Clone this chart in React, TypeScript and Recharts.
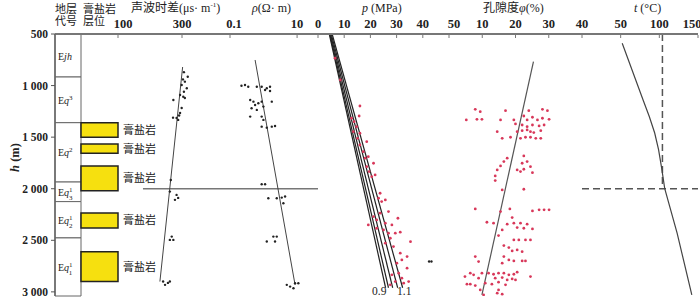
import React from 'react';
import { ComposedChart, Scatter, Line, XAxis, YAxis, ReferenceArea, ReferenceLine } from 'recharts';

const H = 303;
const DEPTH_DOMAIN: [number, number] = [500, 3040];
const DEPTH_TICKS = [500, 1000, 1500, 2000, 2500, 3000];
const DEPTH_LABELS = ['500', '1 000', '1 500', '2 000', '2 500', '3 000'];
const MARK_DEPTH = 2000;

// 地层代号
const STRATA_TOP = [500, 917, 1360, 1935, 2125, 2477];
const STRATA_BOTTOM = [917, 1360, 1935, 2125, 2477, 3040];
const STRATA_ITALIC = ['jh', 'q', 'q', 'q', 'q', 'q'];
const STRATA_SUP = ['', '3', '2', '1', '1', '1'];
const STRATA_SUB = ['', '', '', '3', '2', '1'];

// 膏盐岩层位
const SALT_TOP = [1360, 1566, 1780, 2235, 2610];
const SALT_BOTTOM = [1500, 1655, 2020, 2380, 2900];
const SALT_LABEL = '膏盐岩';

// 声波时差 [h, value]
const ACOUSTIC_PTS = [
  [870, 306], [914, 318], [940, 303], [962, 309], [994, 299], [1026, 315], [1060, 306],
  [1091, 294], [1108, 304], [1120, 309], [1140, 273], [1217, 299], [1266, 294], [1290, 291],
  [1311, 272], [1314, 283], [1333, 288], [1915, 265], [2028, 262], [2060, 283], [2089, 288],
  [2108, 278], [2464, 268], [2496, 273], [2496, 262], [2900, 262], [2900, 241], [2913, 256],
  [2932, 247],
];
const ACOUSTIC_TREND = [[820, 302], [2900, 231]];
const ACOUSTIC_MARK = [[2000, 178], [2000, 450]];
const ACOUSTIC_TICKS = [100, 300];

// 电阻率
const RESIST_PTS = [
  [1001, 0.22], [994, 0.28], [1011, 0.35], [1011, 0.63], [1011, 0.88], [1026, 1.25], [1011, 1.56],
  [1043, 1.11], [1052, 1.56], [1140, 0.4], [1156, 0.5], [1188, 0.56], [1172, 0.7], [1156, 0.88],
  [1204, 0.99], [1156, 1.76], [1220, 0.44], [1236, 0.63], [1301, 0.4], [1301, 0.88], [1333, 0.99],
  [1398, 0.88], [1408, 1.25], [1398, 1.76], [1392, 2.2], [1957, 0.88], [1957, 1.11], [2092, 1.39],
  [2092, 2.48], [2086, 3.49], [2076, 4.38], [2141, 3.9], [2464, 1.96], [2464, 2.48], [2512, 2.2],
  [2512, 1.25], [2932, 4.93], [2949, 6.2], [2916, 8.7], [2916, 10.9], [2965, 7.8],
];
const RESIST_TREND = [[752, 0.56], [2932, 8.7]];
const RESIST_TICKS = [0.1, 10];

// 压力
const PRESSURE_PTS = [
  [735, 6.5], [946, 8.5], [1198, 16.0], [1295, 15.7], [1317, 12.8], [1350, 13.8], [1398, 14.7],
  [1447, 13.5], [1462, 16.0], [1511, 15.1], [1544, 18.6], [1576, 16.0], [1641, 17.3], [1689, 19.2],
  [1704, 18.0], [1753, 21.2], [1786, 18.6], [1834, 19.5], [1866, 21.8], [1883, 20.5], [2044, 23.7],
  [2092, 23.1], [2109, 25.7], [2125, 24.3], [2222, 26.9], [2237, 23.7], [2270, 21.2], [2286, 30.5],
  [2302, 22.4], [2334, 25.7], [2351, 19.2], [2351, 28.2], [2383, 22.4], [2399, 25.0], [2421, 31.4],
  [2431, 26.9], [2431, 29.5], [2480, 27.6], [2513, 35.3], [2528, 25.7], [2561, 28.8], [2625, 31.4],
  [2658, 34.0], [2690, 32.0], [2722, 30.1], [2770, 34.0], [2819, 30.8], [2835, 28.2], [2867, 32.0],
  [2900, 29.5], [2900, 34.6], [2916, 32.7], [2932, 27.6],
];
const PRESSURE_BLACK = [[2706, 42.4], [2706, 43.3]];
const PRESSURE_LINE_TOP = [4.3, 4.5, 4.75, 5.05, 5.4];
const PRESSURE_LINE_BOTTOM = [25.8, 26.9, 28.5, 30.4, 32.3];
const PRESSURE_LINE_DEPTHS = [500, 2960];
const PRESSURE_TICKS = [0, 10, 20, 30, 40, 50];

// 孔隙度
const POROSITY_PTS = [
  [1230, 7.9], [1253, 9.4], [1333, 5.2], [1327, 8.4], [1327, 9.9], [1243, 17.0], [1333, 15.5],
  [1333, 19.5], [1372, 20.0], [1243, 24.0], [1230, 28.1], [1243, 29.6], [1295, 22.5], [1333, 23.5],
  [1307, 25.1], [1333, 26.6], [1317, 28.1], [1327, 30.1], [1382, 22.0], [1398, 23.5], [1382, 25.1],
  [1391, 27.1], [1382, 28.6], [1447, 14.5], [1447, 20.5], [1437, 22.0], [1430, 23.5], [1447, 24.5],
  [1456, 25.5], [1437, 27.6], [1511, 16.0], [1501, 18.5], [1511, 21.5], [1501, 23.0], [1501, 24.5],
  [1511, 26.1], [1511, 27.6], [1682, 22.5], [1737, 23.5], [1753, 22.0], [1786, 24.5], [1704, 17.5],
  [1737, 16.5], [1779, 15.5], [1818, 14.5], [1818, 20.5], [1834, 21.5], [1811, 22.5], [1844, 25.1],
  [1876, 13.9], [1921, 13.9], [2012, 16.0], [2005, 22.5],
  [2196, 7.9], [2222, 15.5], [2196, 18.3], [2215, 25.1], [2205, 27.1], [2205, 28.6], [2205, 30.1],
  [2280, 19.0], [2325, 11.4], [2334, 13.4], [2344, 17.5], [2334, 19.5], [2334, 21.5], [2344, 23.5],
  [2377, 20.5], [2383, 22.5], [2390, 25.1], [2399, 16.0], [2454, 14.9], [2496, 19.5], [2496, 21.0],
  [2496, 23.0], [2496, 24.5], [2551, 16.5], [2571, 18.0], [2603, 19.0], [2593, 20.5], [2610, 22.0],
  [2658, 7.9], [2706, 8.9], [2658, 16.5], [2690, 18.0], [2700, 19.5], [2700, 22.0], [2700, 23.0],
  [2722, 16.0], [2852, 4.8], [2925, 5.4], [2819, 6.4], [2835, 7.4], [2867, 8.9], [2819, 9.9],
  [2819, 11.9], [2829, 13.4], [2819, 14.9], [2819, 16.5], [2835, 18.0], [2829, 19.5], [2809, 20.5],
  [2867, 13.9], [2861, 16.0], [2884, 17.5], [2874, 19.0], [2884, 20.0], [2852, 24.5], [2916, 10.9],
  [2925, 12.9], [2906, 14.9], [2932, 17.0], [2925, 6.4], [2939, 7.9], [2981, 9.4], [3029, 10.4],
  [3013, 14.5], [3022, 16.0], [2981, 14.9],
];
const POROSITY_TREND = [[768, 25.4], [3030, 9.9]];
const POROSITY_TICKS = [10, 20, 30, 40];

// 温度
const TEMP_CURVE = [
  [590, 52], [1140, 79], [1220, 83], [1300, 87], [1460, 94], [1620, 99], [1800, 103],
  [2000, 107], [2430, 123], [3030, 142],
];
const TEMP_DASH = [[500, 104], [2000, 104]];
const TEMP_TICKS = [50, 100, 150];

const toPts = (arr: number[][]) => arr.map(([h, v]) => ({ h, v }));

const FONT = '"Liberation Serif", "Noto Sans CJK SC", serif';
const RED = '#d8385a';

const dot = (r: number, fill: string) => (p: any) =>
  p.cx == null ? <g /> : <circle cx={p.cx} cy={p.cy} r={r} fill={fill} />;

const TopTick = (props: any) => {
  const { x, y, payload, shift } = props;
  const dx = shift?.[payload.value] ?? 0;
  return (
    <g>
      <line x1={x} x2={x} y1={y + 7} y2={y + 10} stroke="#777" strokeWidth={1} />
      <text x={x + dx} y={y} textAnchor="middle" fontSize={12.5} fontWeight="bold" fill="#222" fontFamily={FONT}>
        {payload.value}
      </text>
    </g>
  );
};

const StrataLabel = (props: any) => {
  const { viewBox, i } = props;
  const sup = STRATA_SUP[i];
  const sub = STRATA_SUB[i];
  return (
    <text x={viewBox.x + 3} y={viewBox.y + viewBox.height / 2 + 4} fontSize={10} fill="#222" fontFamily={FONT}>
      E<tspan fontStyle="italic">{STRATA_ITALIC[i]}</tspan>
      {sup ? <tspan dy={-4} fontSize={7}>{sup}</tspan> : null}
      {sub ? <tspan dx={-3.5} dy={8} fontSize={7}>{sub}</tspan> : null}
    </text>
  );
};

const SaltLabel = (props: any) => {
  const { viewBox } = props;
  return (
    <text x={viewBox.x + viewBox.width + 5} y={viewBox.y + viewBox.height / 2 + 4} fontSize={11} fill="#222" fontFamily={FONT}>
      {SALT_LABEL}
    </text>
  );
};

interface PanelProps {
  left: number;
  width: number;
  domain: number[];
  scale?: 'linear' | 'log';
  ticks?: number[];
  shift?: Record<string, number>;
  border: string;
  borderWidth?: number;
  rightBorder?: boolean;
  children?: React.ReactNode;
}

function Panel({ left, width, domain, scale = 'linear', ticks = [], shift, border, borderWidth = 2, rightBorder, children }: PanelProps) {
  const pad = 4;
  return (
    <div style={{ position: 'absolute', left: left - pad, top: 0 }}>
      <ComposedChart width={width + 2 * pad} height={H} margin={{ top: 20, right: pad, bottom: 7, left: pad }}>
        <XAxis
          type="number"
          dataKey="v"
          domain={domain}
          scale={scale}
          orientation="top"
          height={14}
          ticks={ticks.length ? ticks : undefined}
          interval={0}
          tickSize={0}
          tickMargin={6}
          tickLine={false}
          tick={ticks.length ? <TopTick shift={shift} /> : false}
          axisLine={{ stroke: '#777', strokeWidth: 2 }}
          allowDataOverflow
        />
        <YAxis
          type="number"
          dataKey="h"
          domain={DEPTH_DOMAIN}
          reversed
          width={0}
          tick={false}
          tickLine={false}
          axisLine={{ stroke: border, strokeWidth: borderWidth }}
          allowDataOverflow
        />
        {rightBorder && (
          <YAxis
            yAxisId="r"
            orientation="right"
            type="number"
            domain={DEPTH_DOMAIN}
            reversed
            width={0}
            tick={false}
            tickLine={false}
            axisLine={{ stroke: '#999', strokeWidth: 2 }}
          />
        )}
        {children}
      </ComposedChart>
    </div>
  );
}

const title = (left: number, top: number, text: React.ReactNode, size = 12) => (
  <div style={{ position: 'absolute', left, top, fontSize: size, lineHeight: '12px', color: '#222', whiteSpace: 'nowrap' }}>
    {text}
  </div>
);

export default function App() {
  return (
    <div style={{ position: 'absolute', left: 0, top: 0, width: 700, height: H, background: '#fff', overflow: 'hidden', fontFamily: FONT }}>
      <style>{'.recharts-surface{overflow:visible}'}</style>

      {title(55, 3, <>地层<br />代号</>, 11)}
      {title(83, 3, <>膏盐岩<br />层位</>, 11)}
      {title(131, 2, <>声波时差(μs· m<sup style={{ fontSize: 7, lineHeight: 0 }}>-1</sup>)</>)}
      {title(252, 2, <><i>ρ</i>(Ω· m)</>)}
      {title(362, 2, <><i>p</i> (MPa)</>)}
      {title(483, 2, <>孔隙度<i>φ</i>(%)</>)}
      {title(634, 2, <><i>t</i> (°C)</>)}

      <div style={{ position: 'absolute', left: 1, top: 150, transform: 'rotate(-90deg)', fontSize: 12.5, fontWeight: 'bold', color: '#222', whiteSpace: 'nowrap' }}>
        <i>h</i> (m)
      </div>

      {/* 地层代号 + depth axis */}
      <div style={{ position: 'absolute', left: 0, top: 0 }}>
        <ComposedChart width={85} height={H} margin={{ top: 20, right: 4, bottom: 7, left: 0 }}>
          <XAxis type="number" dataKey="v" domain={[0, 1]} orientation="top" height={14} tick={false} tickLine={false} axisLine={{ stroke: '#777', strokeWidth: 2 }} allowDataOverflow />
          <YAxis
            type="number"
            dataKey="h"
            domain={DEPTH_DOMAIN}
            reversed
            width={55}
            ticks={DEPTH_TICKS}
            interval={0}
            tickSize={4}
            tickMargin={3}
            tickFormatter={(v: number) => DEPTH_LABELS[DEPTH_TICKS.indexOf(v)]}
            tick={{ fontSize: 11.5, fontWeight: 'bold', fill: '#222', fontFamily: FONT }}
            tickLine={{ stroke: '#555' }}
            axisLine={{ stroke: '#666', strokeWidth: 1.5 }}
            allowDataOverflow
          />
          {STRATA_TOP.map((t, i) => (
            <ReferenceArea
              key={i}
              x1={0}
              x2={1}
              y1={t}
              y2={STRATA_BOTTOM[i]}
              fill="#fff"
              fillOpacity={1}
              stroke="#666"
              strokeWidth={1}
              ifOverflow="visible"
              label={<StrataLabel i={i} />}
            />
          ))}
        </ComposedChart>
      </div>

      {/* 声波时差 */}
      <Panel left={118} width={112} domain={[100, 450]} ticks={ACOUSTIC_TICKS} shift={{ 100: 5 }} border="#333" borderWidth={1.5}>
        <Line data={toPts(ACOUSTIC_MARK)} dataKey="h" stroke="#777" strokeWidth={1.5} dot={false} isAnimationActive={false} />
        <Line data={toPts(ACOUSTIC_TREND)} dataKey="h" stroke="#444" strokeWidth={1} dot={false} isAnimationActive={false} />
        <Scatter data={toPts(ACOUSTIC_PTS)} shape={dot(1.2, '#222')} isAnimationActive={false} />
      </Panel>

      {/* 膏盐岩 */}
      <div style={{ position: 'absolute', left: 77, top: 0 }}>
        <ComposedChart width={45} height={H} margin={{ top: 20, right: 4, bottom: 7, left: 4 }}>
          <XAxis type="number" dataKey="v" domain={[0, 1]} orientation="top" height={14} tick={false} tickLine={false} axisLine={{ stroke: '#777', strokeWidth: 2 }} allowDataOverflow />
          <YAxis type="number" dataKey="h" domain={DEPTH_DOMAIN} reversed width={0} tick={false} tickLine={false} axisLine={false} allowDataOverflow />
          {SALT_TOP.map((t, i) => (
            <ReferenceArea
              key={i}
              x1={0}
              x2={1}
              y1={t}
              y2={SALT_BOTTOM[i]}
              fill="#f6e00f"
              fillOpacity={1}
              stroke="#222"
              strokeWidth={1.5}
              ifOverflow="visible"
              label={<SaltLabel />}
            />
          ))}
        </ComposedChart>
      </div>

      {/* 电阻率 */}
      <Panel left={230} width={88} domain={[0.1, 42]} scale="log" ticks={RESIST_TICKS} shift={{ 0.1: 4 }} border="#999">
        <ReferenceLine y={MARK_DEPTH} stroke="#777" strokeWidth={1.5} />
        <Line data={toPts(RESIST_TREND)} dataKey="h" stroke="#444" strokeWidth={1} dot={false} isAnimationActive={false} />
        <Scatter data={toPts(RESIST_PTS)} shape={dot(1.2, '#222')} isAnimationActive={false} />
      </Panel>

      {/* 压力 */}
      <Panel left={318} width={131} domain={[0, 50]} ticks={PRESSURE_TICKS} shift={{ 50: 5 }} border="#999">
        {PRESSURE_LINE_TOP.map((p, i) => (
          <Line
            key={i}
            data={[{ h: PRESSURE_LINE_DEPTHS[0], v: p }, { h: PRESSURE_LINE_DEPTHS[1], v: PRESSURE_LINE_BOTTOM[i] }]}
            dataKey="h"
            stroke="#222"
            strokeWidth={1.2}
            dot={false}
            isAnimationActive={false}
          />
        ))}
        <Scatter data={toPts(PRESSURE_PTS)} shape={dot(1.4, RED)} isAnimationActive={false} />
        <Scatter data={toPts(PRESSURE_BLACK)} shape={dot(1.2, '#222')} isAnimationActive={false} />
      </Panel>
      {title(372, 285, '0.9', 11.5)}
      {title(397, 285, '1.1', 11.5)}

      {/* 孔隙度 */}
      <Panel left={449} width={133} domain={[0, 40]} ticks={POROSITY_TICKS} border="#999">
        <Scatter data={toPts(POROSITY_PTS)} shape={dot(1.4, RED)} isAnimationActive={false} />
        <Line data={toPts(POROSITY_TREND)} dataKey="h" stroke="#555" strokeWidth={1.2} dot={false} isAnimationActive={false} />
      </Panel>

      {/* 温度 */}
      <Panel left={582} width={116} domain={[0, 150]} ticks={TEMP_TICKS} shift={{ 150: -6 }} border="#555" borderWidth={1.5} rightBorder>
        <ReferenceLine y={MARK_DEPTH} stroke="#555" strokeWidth={1.5} strokeDasharray="7 4" />
        <Line data={toPts(TEMP_DASH)} dataKey="h" stroke="#555" strokeWidth={1.5} strokeDasharray="7 4" dot={false} isAnimationActive={false} />
        <Line data={toPts(TEMP_CURVE)} dataKey="h" stroke="#444" strokeWidth={1.2} dot={false} isAnimationActive={false} />
      </Panel>
    </div>
  );
}
